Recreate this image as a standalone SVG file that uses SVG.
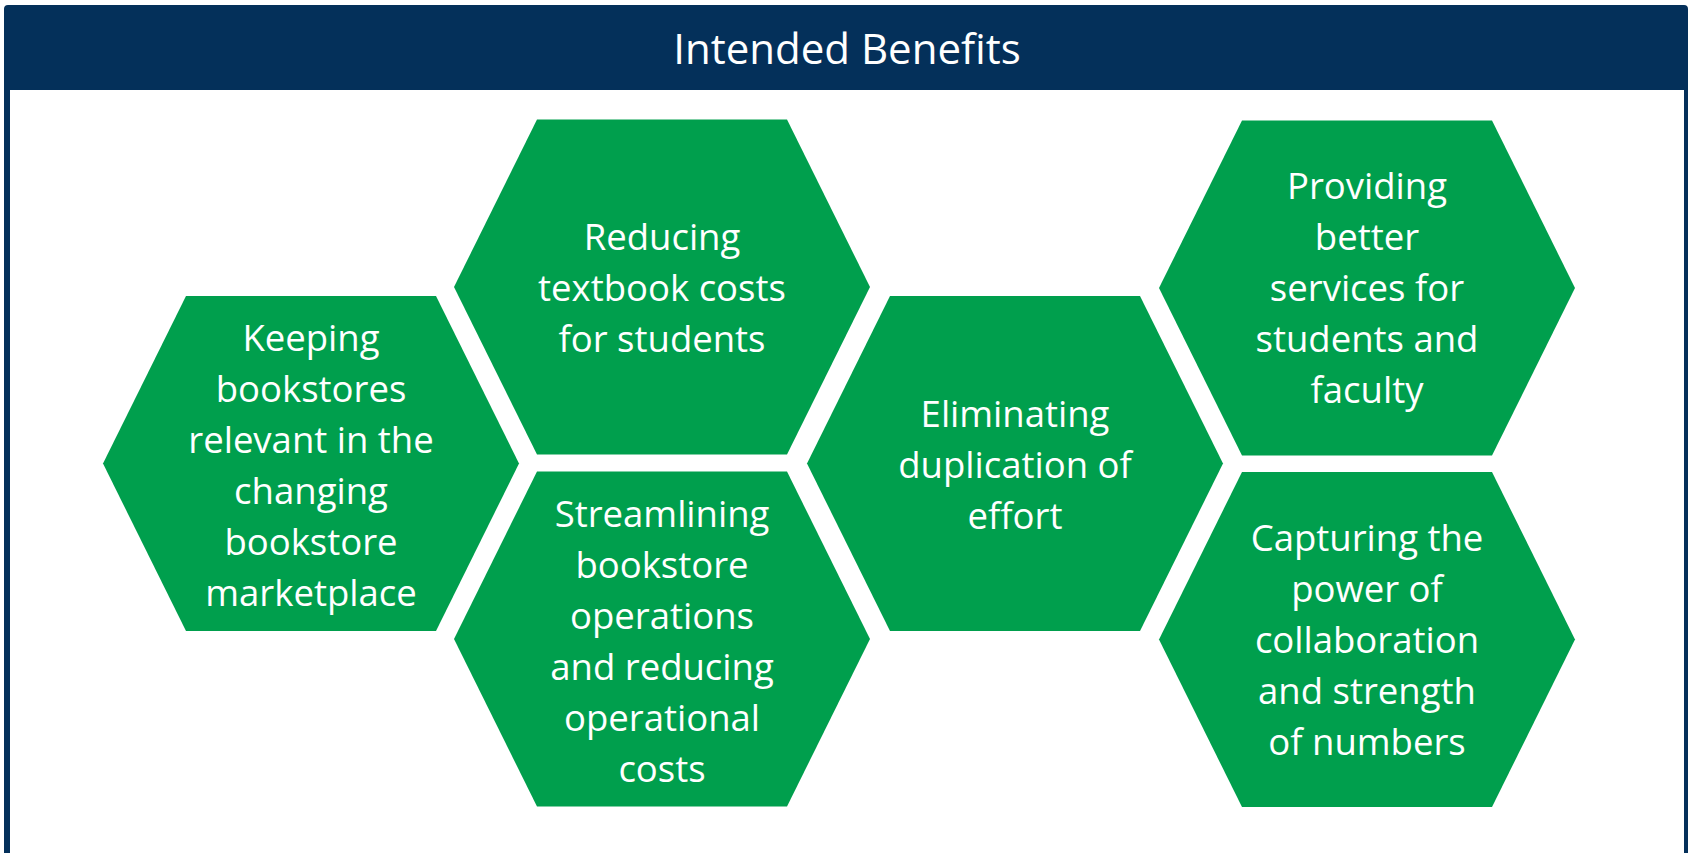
<svg xmlns="http://www.w3.org/2000/svg" width="1692" height="853" viewBox="0 0 1692 853">
<defs>
<style>
.frame{fill:#04305A}
.hex{fill:#009F4D}
.lbl{font-family:"Open Sans","Liberation Sans",sans-serif;font-size:36.5px;fill:#FFFFFF;text-anchor:middle}
.title{font-family:"Open Sans","Liberation Sans",sans-serif;font-size:42px;fill:#FFFFFF;text-anchor:middle}
</style>
<polygon id="hexshape" points="-208,0 -125,-167.5 125,-167.5 208,0 125,167.5 -125,167.5"/>
</defs>
<rect width="1692" height="853" fill="#FFFFFF"/>
<g id="frame">
<path class="frame" d="M4,9 Q4,5 8,5 L1684,5 Q1688,5 1688,9 L1688,853 L1684,853 L1684,90 L10,90 L10,853 L4,853 Z"/>
<text class="title" x="847" y="63.5">Intended Benefits</text>
</g>
<g id="connectors"></g>
<g id="node-keeping">
<use href="#hexshape" class="hex" transform="translate(311,463.5)"/>
<text class="lbl" x="311"><tspan x="311" y="351">Keeping</tspan><tspan x="311" y="402">bookstores</tspan><tspan x="311" y="453">relevant in the</tspan><tspan x="311" y="504">changing</tspan><tspan x="311" y="555">bookstore</tspan><tspan x="311" y="606">marketplace</tspan></text>
</g>
<g id="node-reducing">
<use href="#hexshape" class="hex" transform="translate(662,287)"/>
<text class="lbl"><tspan x="662" y="250">Reducing</tspan><tspan x="662" y="301">textbook costs</tspan><tspan x="662" y="352">for students</tspan></text>
</g>
<g id="node-streamlining">
<use href="#hexshape" class="hex" transform="translate(662,639)"/>
<text class="lbl"><tspan x="662" y="526.5">Streamlining</tspan><tspan x="662" y="577.5">bookstore</tspan><tspan x="662" y="628.5">operations</tspan><tspan x="662" y="679.5">and reducing</tspan><tspan x="662" y="730.5">operational</tspan><tspan x="662" y="781.5">costs</tspan></text>
</g>
<g id="node-eliminating">
<use href="#hexshape" class="hex" transform="translate(1015,463.5)"/>
<text class="lbl"><tspan x="1015" y="426.5">Eliminating</tspan><tspan x="1015" y="477.5">duplication of</tspan><tspan x="1015" y="528.5">effort</tspan></text>
</g>
<g id="node-providing">
<use href="#hexshape" class="hex" transform="translate(1367,288)"/>
<text class="lbl"><tspan x="1367" y="199">Providing</tspan><tspan x="1367" y="250">better</tspan><tspan x="1367" y="301">services for</tspan><tspan x="1367" y="352">students and</tspan><tspan x="1367" y="403">faculty</tspan></text>
</g>
<g id="node-capturing">
<use href="#hexshape" class="hex" transform="translate(1367,639.5)"/>
<text class="lbl"><tspan x="1367" y="551">Capturing the</tspan><tspan x="1367" y="602">power of</tspan><tspan x="1367" y="653">collaboration</tspan><tspan x="1367" y="704">and strength</tspan><tspan x="1367" y="755">of numbers</tspan></text>
</g>
</svg>
